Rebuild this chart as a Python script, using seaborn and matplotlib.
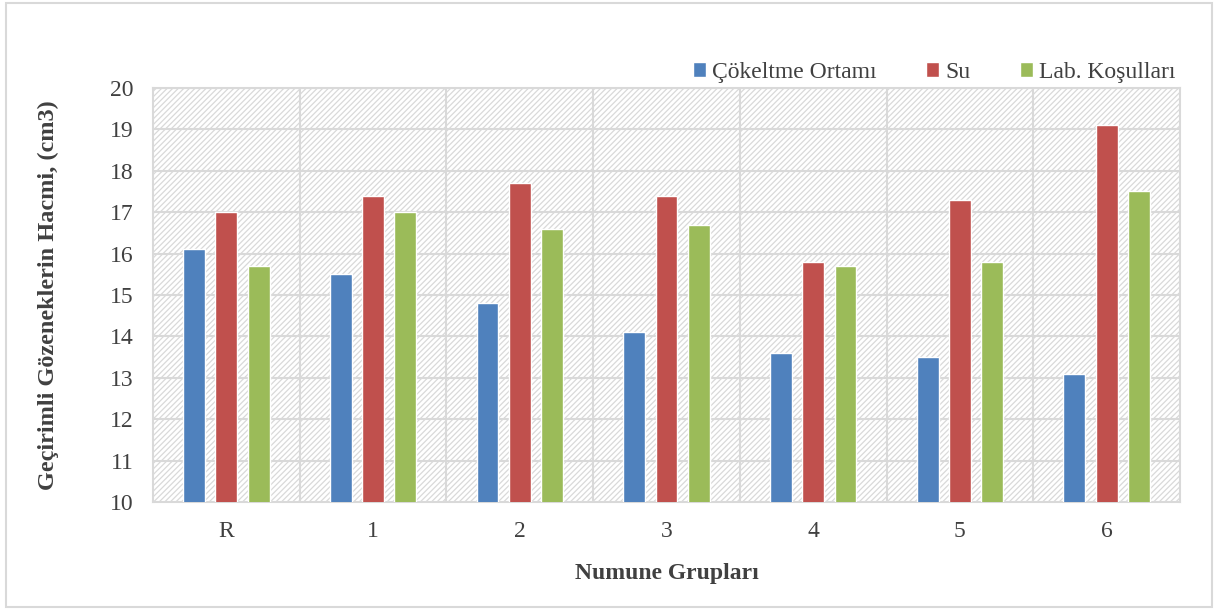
import numpy as np
import pandas as pd
import matplotlib
matplotlib.use("Agg")
import matplotlib.pyplot as plt
import seaborn as sns
from matplotlib.patches import Rectangle

# data
groups = ["R", "1", "2", "3", "4", "5", "6"]
cokeltme = [16.1, 15.5, 14.8, 14.1, 13.6, 13.5, 13.1]
su = [17.0, 17.4, 17.7, 17.4, 15.8, 17.3, 19.1]
lab = [15.7, 17.0, 16.6, 16.7, 15.7, 15.8, 17.5]
series_names = ["Çökeltme Ortamı", "Su", "Lab. Koşulları"]
colors = ["#4f81bd", "#c0504d", "#9bbb59"]

df = pd.DataFrame({"grup": groups, series_names[0]: cokeltme,
                   series_names[1]: su, series_names[2]: lab})
long = df.melt(id_vars="grup", var_name="seri", value_name="hacim")

sns.set_theme(style="white")
plt.rcParams["font.family"] = ["Liberation Serif", "DejaVu Serif"]
plt.rcParams["hatch.linewidth"] = 0.9
plt.rcParams["hatch.color"] = "#d9d9d9"

fig = plt.figure(figsize=(12.17, 6.10), dpi=100)
ax = fig.add_axes([153 / 1217, 1 - 502 / 610, (1180 - 153) / 1217, (502 - 88) / 610])

# hatched plot area background
ax.patch.set_facecolor("white")
ax.patch.set_hatch("//////")
ax.patch.set_edgecolor("#d9d9d9")

sns.barplot(data=long, x="grup", y="hacim", hue="seri", palette=colors,
            width=0.66, gap=0.32, ax=ax, saturation=1,
            legend=True, zorder=3)
# bars start from 10
ax.set_ylim(10, 20)
ax.set_xlim(-0.5, len(groups) - 0.5)
ax.set_yticks(np.arange(10, 21, 1))

# grid: horizontal at each integer, vertical at category boundaries
for y in range(11, 21):
    ax.axhline(y, color="#d9d9d9", lw=1.5, zorder=1)
for x in np.arange(0.5, len(groups) - 0.5, 1):
    ax.axvline(x, color="#d9d9d9", lw=1.5, zorder=1)

for side in ["top", "right", "left", "bottom"]:
    ax.spines[side].set_visible(True)
    ax.spines[side].set_color("#d9d9d9")
    ax.spines[side].set_linewidth(1.5)

ax.tick_params(axis="both", length=0, labelsize=17, colors="#404040")
ax.tick_params(axis="y", pad=14)
ax.tick_params(axis="x", pad=14)
ax.set_xlabel("Numune Grupları", fontsize=17, fontweight="bold", color="#404040")
ax.set_ylabel("Geçirimli Gözeneklerin Hacmi, (cm3)", fontsize=17.5, fontweight="bold",
              color="#404040")
ax.xaxis.set_label_coords(0.5, -0.147)
ax.yaxis.set_label_coords(-0.092, 0.5)

ax.legend(loc="lower right", bbox_to_anchor=(1.008, 0.981), ncol=3, frameon=False,
          fontsize=17, handlelength=0.55, handleheight=0.55, handletextpad=0.25,
          columnspacing=2.1, borderaxespad=0.15, labelcolor="#404040")

# outer chart border
fig.patches.append(Rectangle((6 / 1217, 3 / 610), 1206 / 1217, 604 / 610,
                             transform=fig.transFigure, fill=False,
                             edgecolor="#d9d9d9", lw=1.5))

fig.savefig("out.png", dpi=100)
